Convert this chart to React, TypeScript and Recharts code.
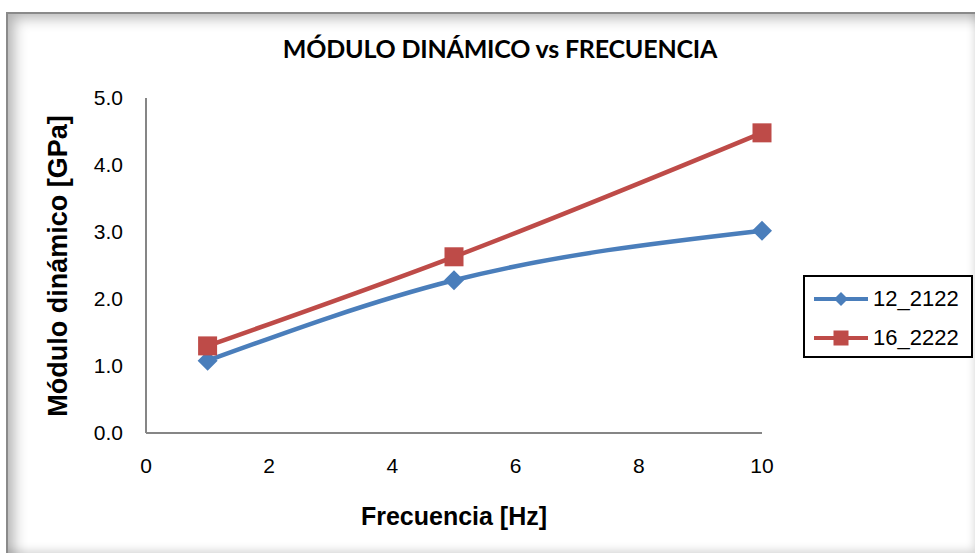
import { LineChart, Line, XAxis, YAxis, Legend } from "recharts"

const frecuencias = [1, 5, 10]
const serie12_2122 = [1.08, 2.28, 3.02]
const serie16_2222 = [1.3, 2.63, 4.48]
const xTicks = [0, 2, 4, 6, 8, 10]
const yTicks = [0, 1, 2, 3, 4, 5]

const data = frecuencias.map((f, i) => ({
  f,
  a: serie12_2122[i],
  b: serie16_2222[i],
}))

const BLUE = "#4a7ebb"
const RED = "#be4b48"
const AXIS = "#868686"
const FONT = "'Liberation Sans', Arial, sans-serif"

function Diamond(props: any) {
  const { cx, cy, r = 10, fill } = props
  if (cx == null || cy == null) return null
  return <path d={`M${cx},${cy - r} L${cx + r},${cy} L${cx},${cy + r} L${cx - r},${cy} Z`} fill={fill} />
}

function Square(props: any) {
  const { cx, cy, s = 19, fill } = props
  if (cx == null || cy == null) return null
  return <rect x={cx - s / 2} y={cy - s / 2} width={s} height={s} fill={fill} />
}

function LegendBox({ payload }: any) {
  return (
    <div
      style={{
        border: "2px solid #000",
        width: 170,
        height: 83,
        boxSizing: "border-box",
        background: "#fff",
        paddingTop: 2,
      }}
    >
      {(payload || []).map((entry: any, i: number) => (
        <div key={entry.value} style={{ display: "flex", alignItems: "center", height: 39 }}>
          <svg width={68} height={24} style={{ flexShrink: 0 }}>
            <line x1={9} y1={12} x2={63} y2={12} stroke={entry.color} strokeWidth={4} />
            {i === 0 ? (
              <Diamond cx={36} cy={12} r={7} fill={entry.color} />
            ) : (
              <Square cx={36} cy={12} s={15} fill={entry.color} />
            )}
          </svg>
          <span style={{ fontFamily: FONT, fontSize: 22, color: "#000" }}>{entry.value}</span>
        </div>
      ))}
    </div>
  )
}

export default function App() {
  return (
    <div style={{ position: "absolute", left: 0, top: 0, width: 975, height: 557, background: "#fff" }}>
      <div
        style={{
          position: "absolute",
          left: 6,
          top: 12,
          width: 969,
          height: 541,
          boxSizing: "border-box",
          borderLeft: "2px solid #8a8a8a",
          borderTop: "2px solid #8a8a8a",
          boxShadow: "inset 12px 10px 14px -6px rgba(0,0,0,0.3), inset -6px -8px 10px -6px rgba(0,0,0,0.18)",
        }}
      />
      <div
        style={{
          position: "absolute",
          left: 0,
          width: 1000,
          top: 33,
          textAlign: "center",
          fontFamily: "Lato, 'Open Sans', sans-serif",
          fontWeight: 700,
          fontSize: 25,
          color: "#000",
          letterSpacing: -0.2,
        }}
      >
        MÓDULO DINÁMICO vs FRECUENCIA
      </div>
      <div
        style={{
          position: "absolute",
          left: 454 - 200,
          width: 400,
          top: 502,
          textAlign: "center",
          fontFamily: FONT,
          fontWeight: 700,
          fontSize: 25,
          color: "#000",
        }}
      >
        Frecuencia [Hz]
      </div>
      <div
        style={{
          position: "absolute",
          left: 58 - 200,
          top: 252,
          width: 400,
          textAlign: "center",
          fontFamily: FONT,
          fontWeight: 700,
          fontSize: 27,
          color: "#000",
          transform: "rotate(-90deg)",
          lineHeight: "28px",
        }}
      >
        Módulo dinámico [GPa]
      </div>
      <div style={{ position: "absolute", left: 0, top: 0 }}>
        <LineChart width={975} height={557} data={data} margin={{ top: 98, right: 213, bottom: 34, left: 26 }}>
          <XAxis
            type="number"
            dataKey="f"
            domain={[0, 10]}
            ticks={xTicks}
            height={90}
            axisLine={{ stroke: AXIS, strokeWidth: 2 }}
            tickLine={false}
            tickSize={6}
            tickMargin={19}
            tick={{ fontSize: 21, fill: "#000", fontFamily: FONT }}
          />
          <YAxis
            type="number"
            domain={[0, 5]}
            ticks={yTicks}
            width={120}
            axisLine={{ stroke: AXIS, strokeWidth: 2 }}
            tickLine={false}
            tickSize={6}
            tickMargin={17}
            tickFormatter={(v: number) => v.toFixed(1)}
            tick={{ fontSize: 21, fill: "#000", fontFamily: FONT }}
          />
          <Legend
            verticalAlign="middle"
            align="center"
            content={<LegendBox />}
            wrapperStyle={{ position: "absolute", left: 803, top: 275, width: 170, height: 83 }}
          />
          <Line
            type="monotone"
            dataKey="a"
            name="12_2122"
            stroke={BLUE}
            strokeWidth={4.5}
            dot={<Diamond r={10} fill={BLUE} />}
            isAnimationActive={false}
          />
          <Line
            type="monotone"
            dataKey="b"
            name="16_2222"
            stroke={RED}
            strokeWidth={4.5}
            dot={<Square s={19} fill={RED} />}
            isAnimationActive={false}
          />
        </LineChart>
      </div>
    </div>
  )
}
